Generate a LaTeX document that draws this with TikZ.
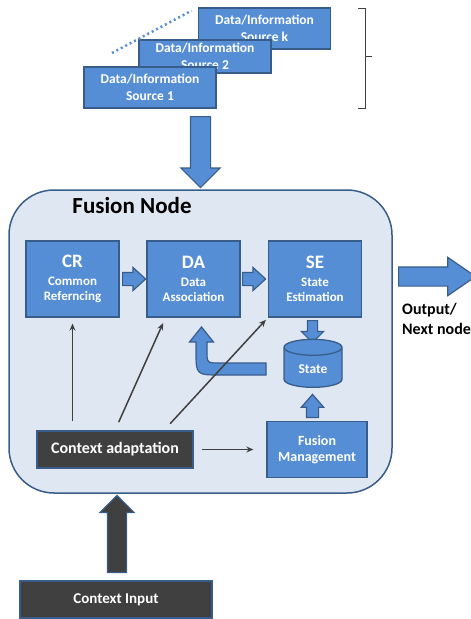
\documentclass[tikz,border=0pt]{standalone}
\usepackage{fontspec}
\setmainfont{Carlito}
\usetikzlibrary{shapes.geometric,shapes.arrows,arrows.meta}
\definecolor{boxblue}{RGB}{85,142,213}
\definecolor{edgeblue}{RGB}{56,93,138}
\definecolor{nodebg}{RGB}{223,231,242}
\definecolor{darkbox}{RGB}{64,64,64}
\newcommand{\abbrfont}{\fontsize{19}{19}\selectfont}
\tikzset{
	srcbox/.style={draw=edgeblue, fill=boxblue, line width=1.3pt, text=white, align=center,
		font=\fontsize{13.5}{17}\selectfont\bfseries, minimum width=132pt, inner sep=0pt},
	stepbox/.style={draw=edgeblue, fill=boxblue, line width=1.3pt, text=white, align=center,
		font=\fontsize{13}{15}\selectfont\bfseries, minimum width=93pt, minimum height=76pt, inner sep=0pt},
	ctxbox/.style={draw=edgeblue, fill=darkbox, line width=1.3pt, text=white,
		font=\fontsize{16}{18}\selectfont\bfseries, inner sep=0pt},
	barrow/.style={single arrow, draw=edgeblue, fill=boxblue, line width=1.2pt, anchor=tail},
	ctxline/.style={draw=darkbox, line width=1.5pt, -{Stealth[length=7pt,width=6pt]}}
}
\begin{document}
\begin{tikzpicture}[x=1pt, y=-1pt]
	\useasboundingbox (0,0) rectangle (471,619);

	% sources
	\node[srcbox, minimum height=41pt] (srck) at (264.5,28.5) {Data/Information\\Source k};
	\node[srcbox, minimum height=33pt] (src2) at (205,56.5)   {Data/Information\\Source 2};
	\node[srcbox, minimum height=41pt] (src1) at (150,87.5)   {Data/Information\\Source 1};
	\coordinate (more) at (112,53);
	\draw[boxblue, line width=2.5pt, dash pattern=on 2pt off 3pt, shorten >=7pt] (more) -- (srck.north west);
	\draw[darkbox, line width=1pt] (358,8) -- (365,8) -- (365,108) -- (358,108);
	\draw[darkbox, line width=1pt] (365,56) -- (372,56);

	\node[barrow, shape border rotate=270, minimum height=71pt, inner sep=9.5pt,
		single arrow head extend=9.5pt] (fusein) at (200.5,116) {};

	% fusion node
	\node[draw=edgeblue, fill=nodebg, line width=1.5pt, rounded corners=45pt,
		minimum width=383pt, minimum height=303pt] (fusion) at (200.5,341.5) {};
	\node[font=\fontsize{23}{25}\selectfont\bfseries] (title) at (132,206) {Fusion Node};

	\node[stepbox] (cr) at (72.5,279)  {{\abbrfont CR}\\[2.5pt]Common\\Referncing};
	\node[stepbox] (da) at (193.5,279) {{\abbrfont DA}\\[2.5pt]Data\\Association};
	\node[stepbox] (se) at (315,279)   {{\abbrfont SE}\\[2.5pt]State\\Estimation};

	\node[barrow, minimum height=23pt, inner sep=6pt, single arrow head extend=5pt,
		single arrow tip angle=85] (crda) at (122,279) {};
	\node[barrow, minimum height=23pt, inner sep=6pt, single arrow head extend=5pt,
		single arrow tip angle=85] (dase) at (242,279) {};

	\node[barrow, minimum height=77pt, inner sep=9pt, single arrow head extend=9.5pt,
		single arrow tip angle=69] (out) at (398,276.5) {};
	\node[font=\fontsize{16}{20}\selectfont\bfseries, align=left, anchor=west, inner sep=0pt]
		(outlbl) at (402,319) {Output/\\Next node};

	\node[barrow, shape border rotate=270, minimum height=22pt, inner sep=4.5pt,
		single arrow head extend=6pt] (sest) at (312.5,320) {};
	\node[cylinder, shape border rotate=90, draw=edgeblue, fill=boxblue, line width=1.3pt,
		minimum width=58pt, minimum height=48pt, aspect=0.45, text=white,
		font=\fontsize{13.5}{15}\selectfont\bfseries] (state) at (313,369.5) {State};
	\node[barrow, shape border rotate=90, minimum height=23pt, inner sep=5.5pt,
		single arrow head extend=5pt, single arrow tip angle=82] (fmst) at (312.5,418) {};

	\node[stepbox, minimum width=100pt, minimum height=56pt,
		font=\fontsize{14}{16}\selectfont\bfseries] (fm) at (317,449.5) {Fusion\\Management};

	% feedback
	\draw[edgeblue, fill=boxblue, line width=1.2pt] (266,363) -- (220,363)
		.. controls (207,363) .. (207,351) -- (207,342) -- (213.5,342) -- (201.5,327)
		-- (189.5,342) -- (196,342) -- (196,351) .. controls (196,375) .. (221,375)
		-- (266,375) -- cycle;

	% context
	\node[ctxbox, minimum width=156pt, minimum height=37pt] (ca) at (115,449.5) {Context adaptation};
	\node[ctxbox, minimum width=192pt, minimum height=37pt,
		font=\fontsize{15}{17}\selectfont\bfseries] (ci) at (116,599.5) {Context Input};
	\node[barrow, fill=darkbox, shape border rotate=90, minimum height=77pt, inner sep=9pt,
		single arrow head extend=7.5pt] (ciup) at (117,573) {};

	\draw[ctxline, shorten <=9pt, shorten >=6pt] (ca.north -| cr.south) -- (cr.south);
	\draw[ctxline, shorten <=9pt, shorten >=6pt] (ca.north) -- ([xshift=-28pt]da.south);
	\draw[ctxline, shorten <=9pt, shorten >=3pt] ([xshift=49pt]ca.north) -- (se.south west);
	\draw[ctxline, shorten <=8pt, shorten >=13pt] (ca.east) -- (fm.west);
\end{tikzpicture}
\end{document}
